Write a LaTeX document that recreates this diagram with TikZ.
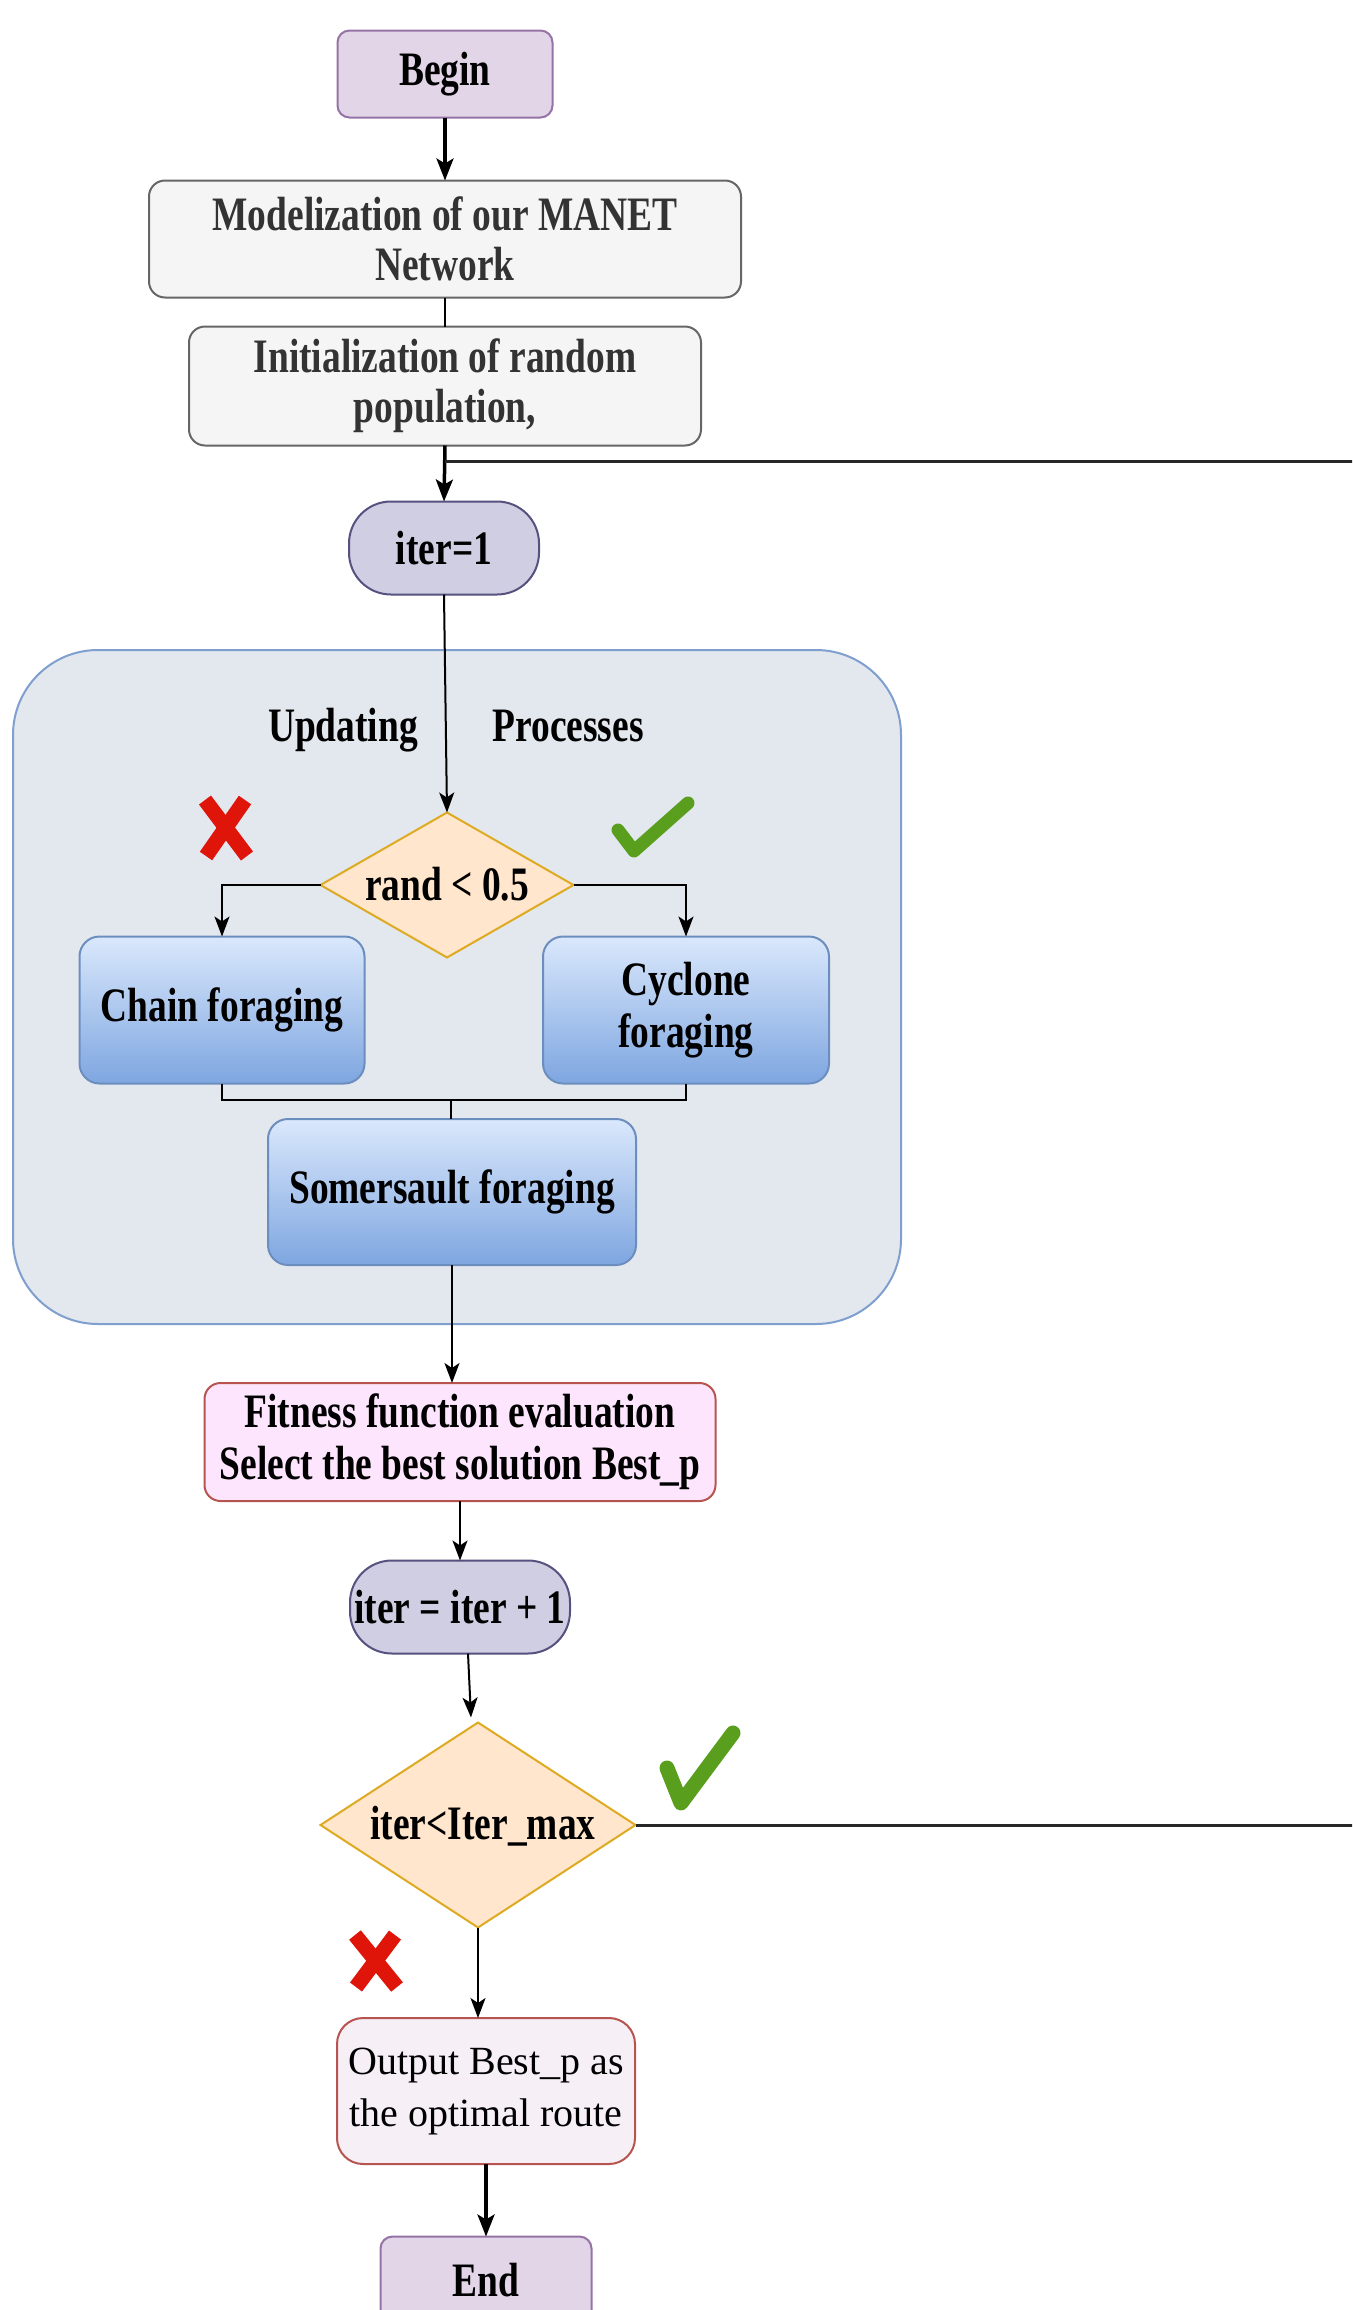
\documentclass[tikz,border=0pt]{standalone}
\usepackage{fontspec}
\setmainfont{Liberation Serif}[FakeStretch=0.78]
\newfontfamily\plainfont{Liberation Serif}
\usetikzlibrary{shapes.geometric,arrows.meta,calc}
\definecolor{purpF}{HTML}{E1D5E7}\definecolor{purpD}{HTML}{9673A6}
\definecolor{grayF}{HTML}{F5F5F5}\definecolor{grayD}{HTML}{666666}
\definecolor{iterF}{HTML}{D0CEE2}\definecolor{iterD}{HTML}{56517E}
\definecolor{contF}{HTML}{E3E8EF}\definecolor{contD}{HTML}{7F9FCF}
\definecolor{decF}{HTML}{FFE6CC}\definecolor{decD}{HTML}{DDAA22}
\definecolor{blueT}{HTML}{DAE8FC}\definecolor{blueB}{HTML}{7EA6E0}\definecolor{blueD}{HTML}{6C8EBF}
\definecolor{pinkF}{HTML}{FDE6FD}\definecolor{redD}{HTML}{B85450}
\definecolor{outF}{HTML}{F6EFF6}
\definecolor{redX}{HTML}{E01509}\definecolor{greenC}{HTML}{5A9E1E}\definecolor{greenD}{HTML}{3F7A12}
\definecolor{txtG}{HTML}{333333}
\tikzset{
  base/.style={font=\fontsize{48}{52}\selectfont\bfseries, align=center, inner sep=0pt, outer sep=0pt, line width=2pt},
  term/.style={base, draw=purpD, fill=purpF, rounded corners=12pt},
  proc/.style={base, font=\fontsize{48}{50}\selectfont\bfseries, draw=grayD, fill=grayF, rounded corners=16pt, text=txtG},
  iterbox/.style={base, draw=iterD, fill=iterF, rounded corners=42pt},
  cont/.style={draw=contD, fill=contF, line width=2pt, rounded corners=85pt, inner sep=0pt, outer sep=0pt},
  dec/.style={diamond, draw=decD, fill=decF, line width=2pt, inner sep=0pt, outer sep=0pt},
  dectext/.style={base},
  forage/.style={base, draw=blueD, top color=blueT, bottom color=blueB, rounded corners=20pt},
  fitbox/.style={base, draw=redD, fill=pinkF, rounded corners=16pt},
  outbox/.style={base, font=\plainfont\fontsize{40}{52}\selectfont, draw=redD, fill=outF, rounded corners=26pt},
  lab/.style={base, anchor=base},
  conn/.style={line width=2pt, black},
  arr/.style={conn, -{Stealth[length=20pt,width=15pt,inset=5pt]}},
  arrT/.style={line width=3.5pt, black, -{Stealth[length=22pt,width=17pt,inset=5pt]}},
  connT/.style={line width=3pt, black!85},
  xmark/.style={line width=15pt, redX},
  cmark/.style={line width=13pt, greenC, line cap=round, line join=round}
}
\begin{document}
\begin{tikzpicture}[x=1pt,y=-1pt]
\path[use as bounding box, clip] (0,0) rectangle (1352,2310);
\fill[white] (0,0) rectangle (1352,2310);

% container
\node[cont, minimum width=888, minimum height=674] (cont) at (457,987) {};
\node[lab] (upd) at (343,741) {Updating};
\node[lab] (proc) at (568,741) {Processes};

% nodes
\node[term, minimum width=215, minimum height=87] (begin) at (445,74) {Begin};
\node[proc, minimum width=592, minimum height=117] (model) at (445,239) {Modelization of our MANET\\Network};
\node[proc, minimum width=512, minimum height=119] (init) at (445,386) {Initialization of random\\population,};
\node[iterbox, minimum width=190, minimum height=93] (iter1) at (444,548) {iter=1};
\node[dec, minimum width=253, minimum height=145] (d1) at (447,885) {};
\node[dectext] (d1t) at (447,884) {rand < 0.5};
\node[forage, minimum width=285, minimum height=147] (chain) at (222,1010) {Chain foraging};
\node[forage, minimum width=286, minimum height=147] (cyc) at (686,1010) {Cyclone\\foraging};
\node[forage, minimum width=368, minimum height=146] (som) at (452,1192) {Somersault foraging};
\node[fitbox, minimum width=511, minimum height=118] (fit) at (460,1442) {Fitness function evaluation\\Select the best solution Best\_p};
\node[iterbox, minimum width=220, minimum height=93] (iter2) at (460,1607) {iter = iter + 1};
\node[dec, minimum width=315, minimum height=205] (d2) at (478,1825) {};
\node[dectext] (d2t) at (483,1826) {iter<Iter\_max};
\node[outbox, minimum width=298, minimum height=146] (out) at (486,2091) {Output Best\_p as\\the optimal route};
\node[term, minimum width=211, minimum height=87] (end) at (486,2280) {End};

% connectors
\coordinate (jn) at (445,461);
\coordinate (mg) at (451,1100);
\draw[arrT] (begin) -- (model);
\draw[conn] (model) -- (init);
\draw[arrT] (init.south) -- (iter1.north);
\draw[connT] (d2.east) -- ++(800,0) |- (jn);
\draw[arr] (iter1.south) -- (d1.north);
\draw[arr] (d1.west) -| (chain.north);
\draw[arr] (d1.east) -| (cyc.north);
\draw[conn] (chain.south) |- (mg) -| (cyc.south);
\draw[conn] (mg) -- (mg |- som.north);
\draw[arr] (som.south) -- (som.south |- fit.north);
\draw[arr] (fit.south) -- (iter2.north);
\draw[arr] ([xshift=8pt]iter2.south) -- ([xshift=-7pt,yshift=5pt]d2.north);
\draw[arr] (d2.south) -- (d2.south |- out.north);
\draw[arrT] (out.south) -- (end.north);

% marks
\draw[xmark] (205,800) -- (247,856);
\draw[xmark] (245,800) -- (206,856);
\draw[cmark] (618,830) -- (634,851) -- (688,803);
\draw[xmark] (355,1935) -- (397,1987);
\draw[xmark] (395,1935) -- (356,1987);
\draw[cmark, line width=15pt] (667,1768) -- (681,1803) -- (733,1733);
\end{tikzpicture}
\end{document}
